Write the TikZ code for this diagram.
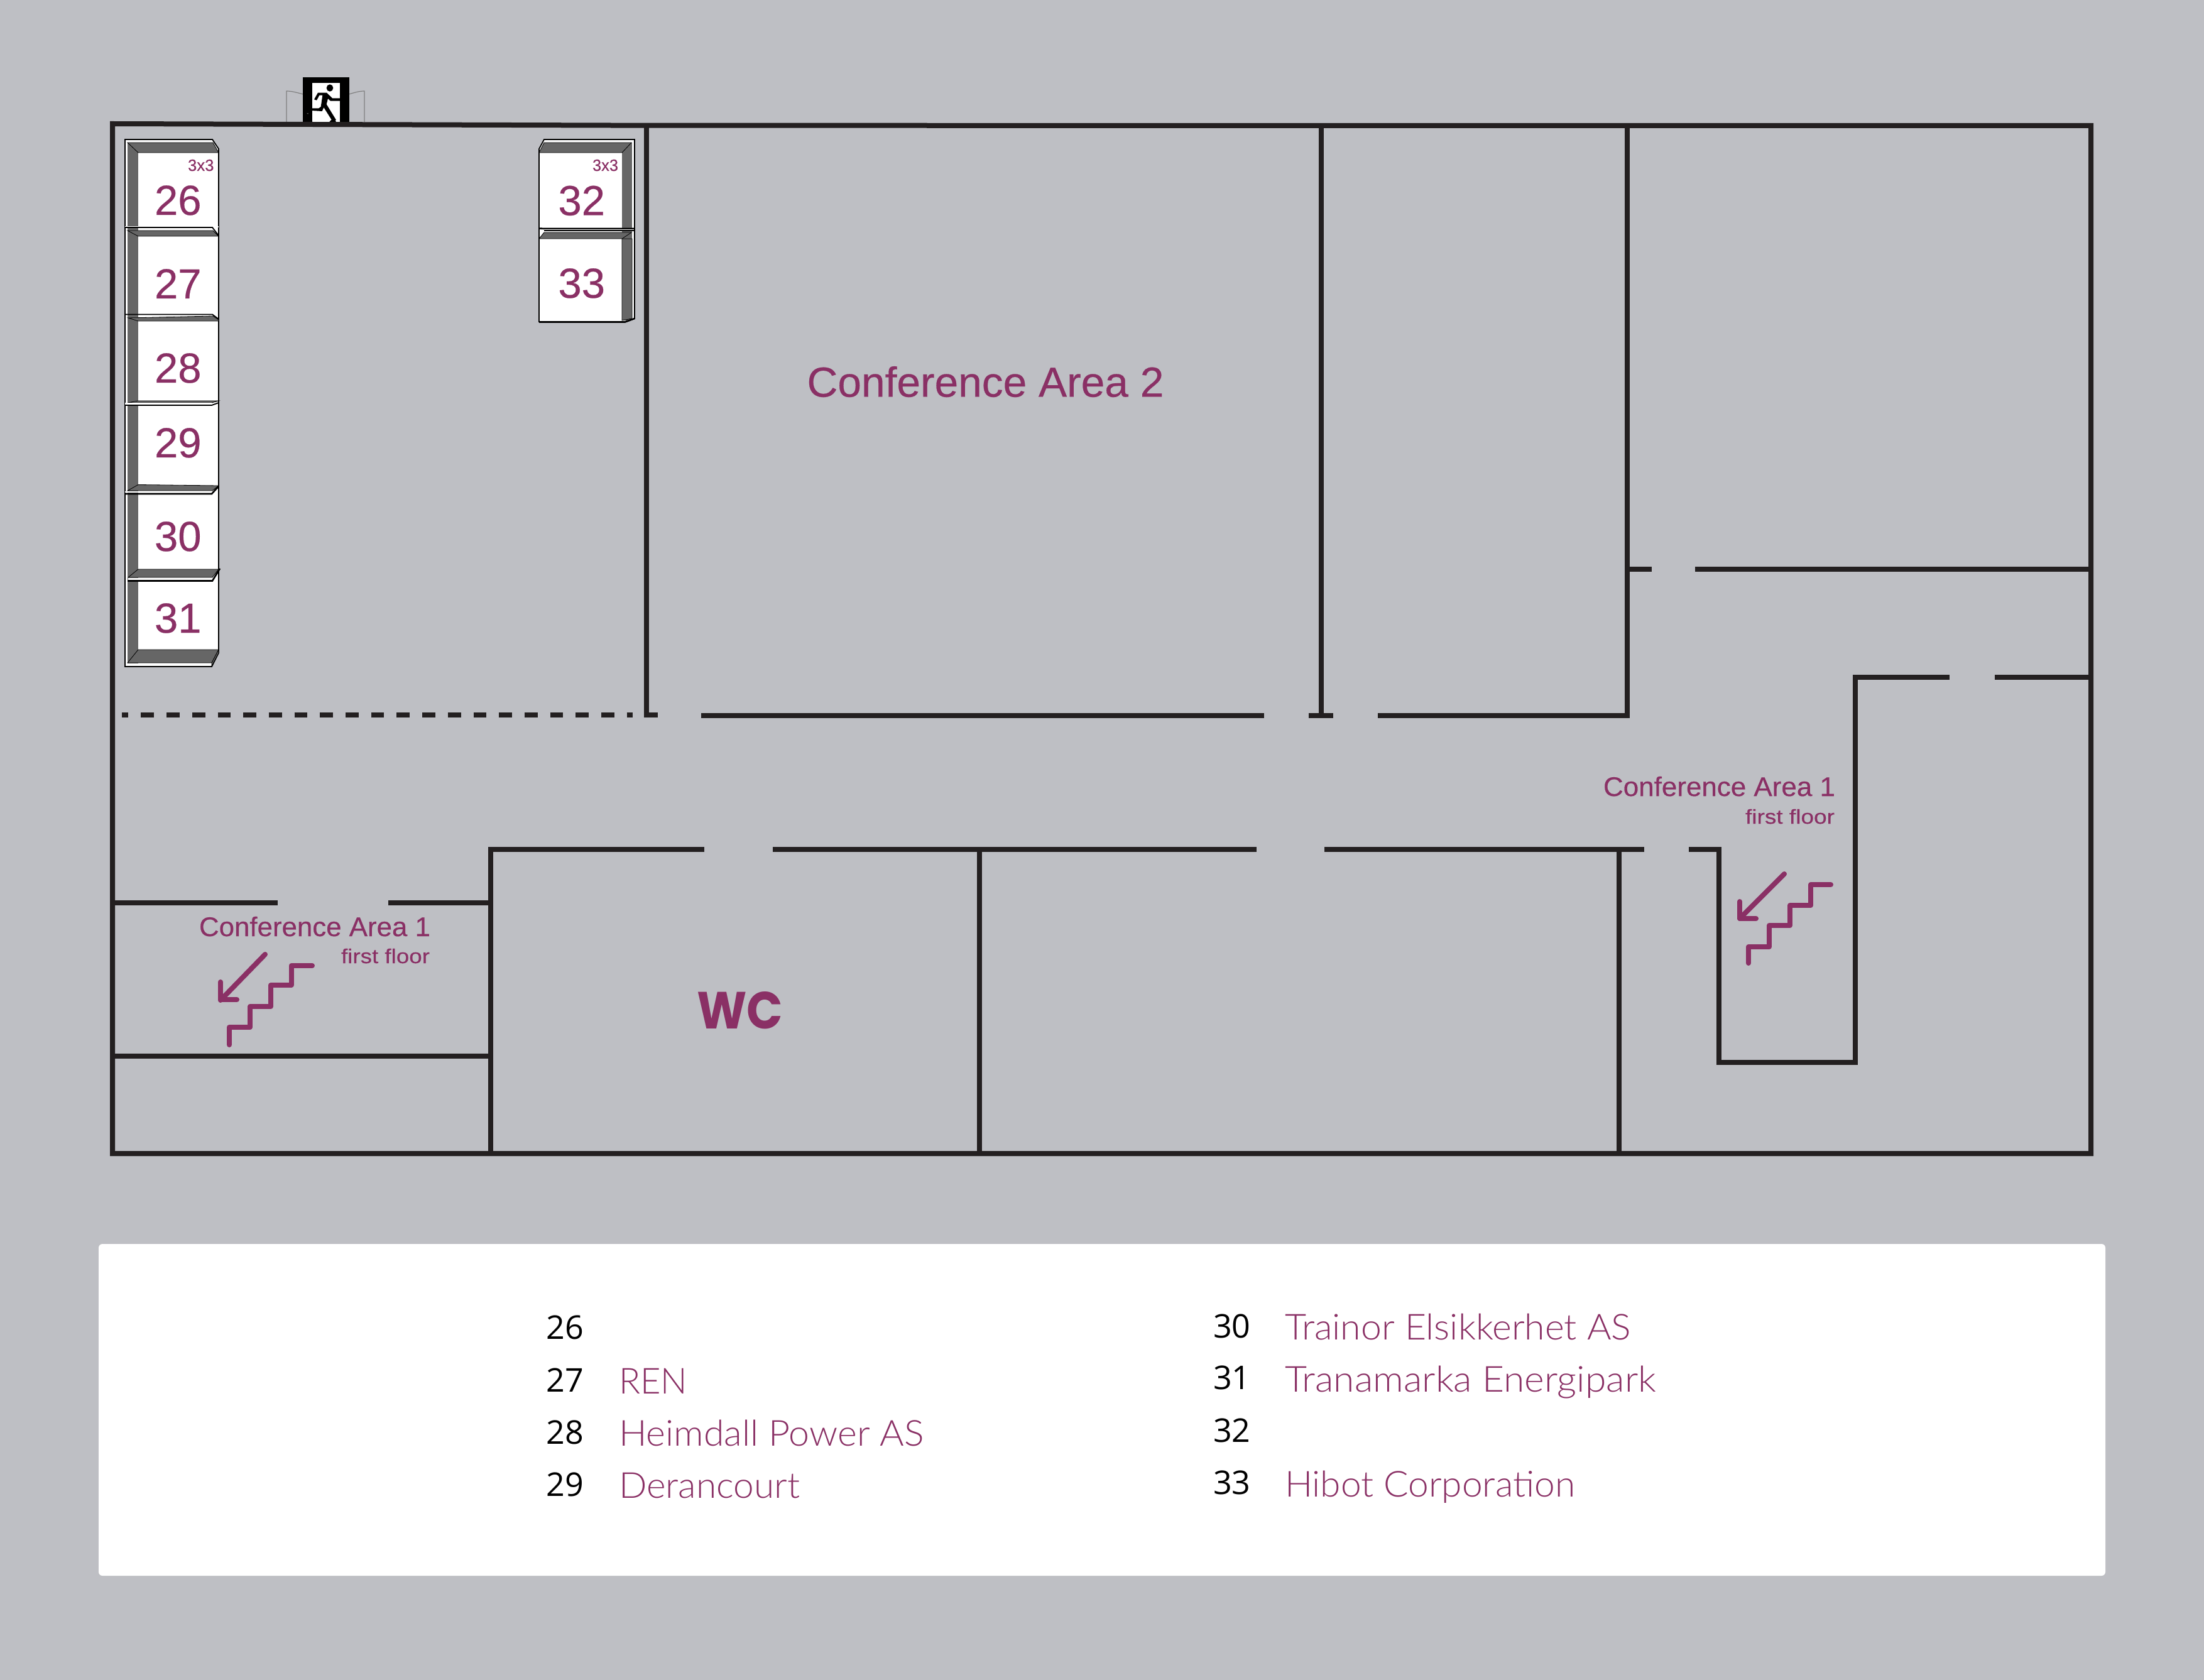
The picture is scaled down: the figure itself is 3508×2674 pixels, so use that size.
\documentclass[tikz,border=0pt]{standalone}
\usepackage{fontspec}
\usepackage{graphicx}
\setmainfont{Liberation Sans}[FakeBold=0.35]
\newfontfamily\legnum{Open Sans}
\newfontfamily\legname{Lato Light}
\newfontfamily\wcfont{Poppins}
\definecolor{bgc}{HTML}{BEBFC4}
\definecolor{wallc}{HTML}{231F20}
\definecolor{plumc}{HTML}{8A3065}
\definecolor{boothc}{HTML}{666666}
\newcommand\ft[3]{\resizebox{\dimexpr#1pt/2\relax}{\height}{\fontsize{#2}{#2}\selectfont #3}}
\tikzset{
  lbl/.style={inner sep=0pt,outer sep=0pt,anchor=base west,text=plumc},
  numl/.style={lbl,text=black},
  wall/.style={draw=wallc,line width=4pt,line cap=butt,line join=miter},
  stairs/.style={draw=plumc,line width=4pt,line cap=round,line join=round},
  boothdark/.style={fill=boothc,draw=black,line width=.4pt},
  boothline/.style={draw=black,line width=.9pt},
  strip/.style={fill=white,draw=none},
  door/.style={draw=gray,line width=.6pt},
}
\begin{document}
\begin{tikzpicture}[x=0.5pt,y=-0.5pt]
\useasboundingbox (0,0) rectangle (3508,2674);
\fill[bgc] (0,0) rectangle (3508,2674);
% legend panel
\fill[white,rounded corners=3pt] (157,1980) rectangle (3351,2508);

% exit sign
\draw[door] (456,194) -- (456,145) .. controls (466,145) and (474,148) .. (483,150);
\draw[door] (580,194) -- (580,145) .. controls (570,145) and (563,148) .. (555,150);
\fill[black] (482.3,123.3) rectangle (555.7,196);
\fill[white] (497,132.3) rectangle (541,196);
\begin{scope}[shift={(450,115)},scale=1/3]
  \fill[black] (225,75) ellipse [x radius=16,y radius=17];
  \draw[white,line width=1pt] (118,198) .. controls (122,182) and (135,176) .. (172,176);
  \fill[black] (168,98) -- (210,98) -- (237,124) -- (273,124) -- (273,137) -- (228,137) -- (216,126) -- (209,153) -- (255,228) -- (237,233) -- (196,168) -- (188,186) -- (137,183) -- (122,197) -- (97,197) -- (97,180) -- (135,172) -- (172,172) -- (182,165) -- (190,110) -- (175,110) -- (162,134) -- (150,130) -- cycle;
  \fill[black] (222,238) -- (232,227) -- (250,227) -- (255,238) -- cycle;
\end{scope}

% walls
\draw[wall] (1029,1142) -- (1029,199);
\draw[wall] (1029,1138) -- (1046.6,1138);
\draw[wall] (1116,1139) -- (2012,1139);
\draw[wall] (2083,1139) -- (2122,1139);
\draw[wall] (2103,200) -- (2103,1139);
\draw[wall] (2193,1139) -- (2590,1139) -- (2590,200);
\draw[wall] (2590,906) -- (2629,906);
\draw[wall] (2698,906) -- (3328,906);
\draw[wall] (3103,1078) -- (2953,1078) -- (2953,1691) -- (2736,1691) -- (2736,1352) -- (2688,1352);
\draw[wall] (3175,1078) -- (3328,1078);
\draw[wall] (781,1836) -- (781,1352) -- (1121,1352);
\draw[wall] (1230,1352) -- (2000,1352);
\draw[wall] (2108,1352) -- (2617,1352);
\draw[wall] (2577,1352) -- (2577,1836);
\draw[wall] (1559,1352) -- (1559,1836);
\draw[wall] (179,1437) -- (442,1437);
\draw[wall] (618,1437) -- (781,1437);
\draw[wall] (179,1681) -- (781,1681);
\draw[wall] (179,197) -- (1033,199.7) -- (3328,200) -- (3328,1836) -- (179,1836) -- cycle;
\draw[wall,dash pattern=on 10.35pt off 10pt,dash phase=5.15pt] (194,1138) -- (1007,1138);

% left stack of booths
\filldraw[fill=white,boothline] (199,222) -- (338,222) -- (348,237) -- (348,1039) -- (337,1061) -- (199,1061) -- cycle;
\fill[boothc] (203,227) rectangle (220,1056);
% 26
\fill[boothdark] (203,227) -- (339,227) -- (348,243) -- (220,243) -- cycle;
% 27
\fill[strip] (199,360) rectangle (348,362);
\draw[boothline] (199,362) -- (338,362) -- (348,375);
\fill[boothdark] (203,367) -- (339,367) -- (348,376) -- (220,376) -- cycle;
% 28
\draw[boothline] (199,500.5) -- (338,500.5) -- (348,508);
\fill[boothdark] (204,506) -- (339,503) -- (348,509) -- (348,511) -- (220,511) -- cycle;
% 29
\fill[boothdark] (220,638) -- (348,638) -- (337,641) -- (203,641) -- cycle;
\fill[strip] (199,641) rectangle (337,644);
\draw[boothline] (199,645) -- (337,645) -- (348,641);
% 30
\fill[boothdark] (220,771.5) -- (348,773) -- (338,781) -- (203,781) -- cycle;
\fill[strip] (199,782) rectangle (337,784.5);
\draw[draw=black,line width=1.3pt] (199,786) -- (337,786) -- (348,774);
% 31
\fill[boothdark] (220,906) -- (348,906) -- (338,919) -- (204,919) -- cycle;
\fill[strip] (204,920) rectangle (338,923);
\draw[draw=black,line width=1.3pt] (203,924.5) -- (338,924.5) -- (350,905);
% bottom of 31
\fill[boothdark] (220,1034) -- (348,1034) -- (337,1055) -- (203,1055) -- cycle;
\fill[boothdark] (348,1034) -- (348,1039) -- (337,1060) -- (337,1055) -- cycle;
\fill[strip] (203,1056) rectangle (336,1059);

% right stack of booths
\filldraw[fill=white,boothline] (866,222) -- (1010,222) -- (1010,507) -- (995,512) -- (858,512) -- (858,237) -- cycle;
\fill[boothc] (990,227) rectangle (1006,510);
\fill[boothdark] (866,227) -- (1005,227) -- (990,243) -- (858,243) -- cycle;
\draw[draw=black,line width=1.3pt] (858,363.5) -- (866,364) -- (1010,364);
\fill[strip] (866,365) rectangle (1009,366.5);
\draw[draw=black,line width=1pt] (866,367.5) -- (1010,367.5);
\fill[boothdark] (866,370) -- (1005,370) -- (990,380) -- (858,380) -- cycle;
\fill[boothdark] (990,510) -- (1006,507) -- (1006,380) -- (990,380) -- cycle;
\draw[draw=black,line width=1.3pt] (858,512.5) -- (995,512.5) -- (1010,507);

% booth numbers
\foreach \nm/\bx/\by in {26/246/342,27/246/475,28/246/609,29/246/728,30/246/877,31/246/1007,32/888.5/342.5,33/888.5/474}{
  \node[lbl] (b\nm) at (\bx,\by) {\fontsize{33.5}{33.5}\selectfont\nm};
}
\node[lbl] (s26) at (299,272) {\ft{41.5}{13}{3x3}};
\node[lbl] (s32) at (943,272) {\ft{41}{13}{3x3}};

% room labels
\node[lbl] (ca2) at (1284.5,631.5) {\ft{568}{33.5}{Conference Area 2}};
\node[lbl] (ca1l) at (317,1490) {\ft{368}{21.5}{Conference Area 1}};
\node[lbl] (ffl) at (543,1533) {\ft{141}{16}{first floor}};
\node[lbl] (ca1r) at (2552,1267) {\ft{369}{21.5}{Conference Area 1}};
\node[lbl] (ffr) at (2778,1311) {\ft{142}{16}{first floor}};
\node[lbl] (wc) at (1109,1637) {\resizebox{68.5pt}{29.5pt}{\wcfont\bfseries WC}};

% stairs left
\draw[stairs] (365,1663) -- (365,1635) -- (398,1635) -- (398,1602) -- (431,1602) -- (431,1568) -- (463.5,1568) -- (463.5,1537) -- (497,1537);
\draw[stairs] (422,1519) -- (351,1592);
\draw[stairs] (351,1563) -- (351,1591) -- (377,1591);
% stairs right
\draw[stairs] (2783,1533) -- (2783,1507) -- (2816,1507) -- (2816,1473) -- (2849,1473) -- (2849,1441) -- (2882,1441) -- (2882,1408) -- (2914,1408);
\draw[stairs] (2840,1391) -- (2769,1462);
\draw[stairs] (2769,1435) -- (2769,1462) -- (2795,1462);

% legend
\foreach \nm/\bx/\by in {26/869.5/2131.5,27/869.5/2215.5,28/869.5/2298.5,29/869.5/2381.5,30/1931/2129.5,31/1931/2211.5,32/1931/2295.5,33/1931/2378.5}{
  \node[numl] (l\nm) at (\bx,\by) {\legnum\fontsize{26}{26}\selectfont\nm};
}
\newcommand\legn[1]{\legname #1}
\node[lbl] (n27) at (985,2218) {\ft{109}{28.5}{\legn{REN}}};
\node[lbl] (n28) at (985,2301) {\ft{486}{28.5}{\legn{Heimdall Power AS}}};
\node[lbl] (n29) at (985,2384) {\ft{288}{28.5}{\legn{Derancourt}}};
\node[lbl] (n30) at (2045,2132) {\ft{551}{28.5}{\legn{Trainor Elsikkerhet AS}}};
\node[lbl] (n31) at (2045,2215) {\ft{591}{28.5}{\legn{Tranamarka Energipark}}};
\node[lbl] (n33) at (2045,2382) {\ft{462}{28.5}{\legn{Hibot Corporation}}};
\end{tikzpicture}
\end{document}
